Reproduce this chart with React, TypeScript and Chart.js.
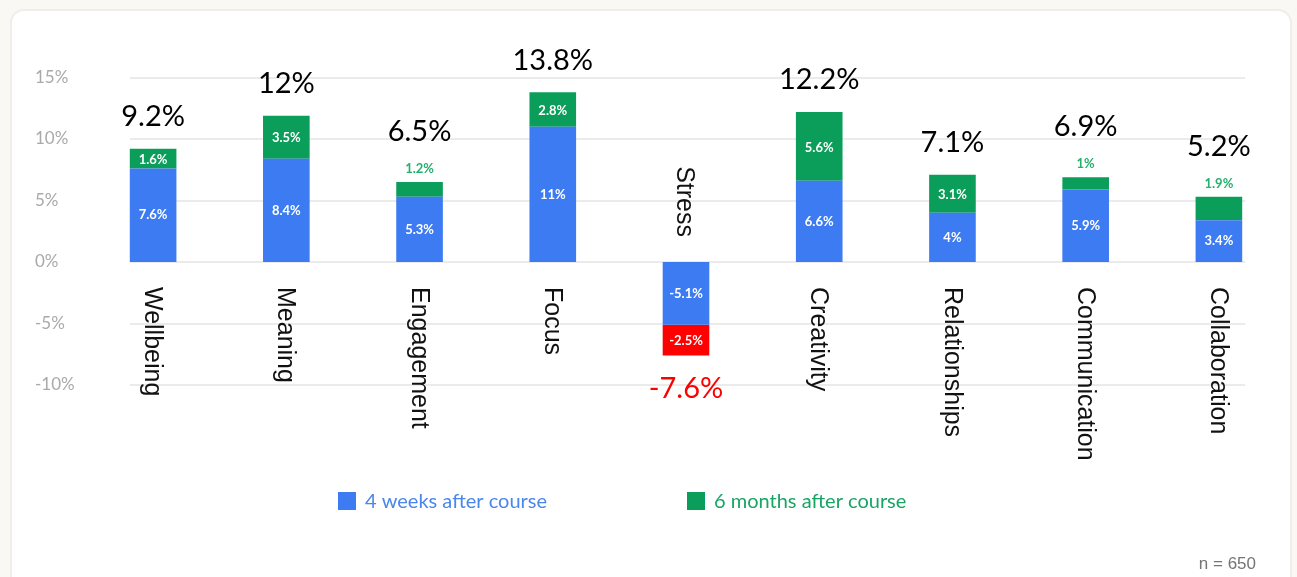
import React, { useEffect, useRef } from "react";
import { Chart, registerables } from "chart.js";

Chart.register(...registerables);

// ---------- data ----------
const categories = [
  "Wellbeing",
  "Meaning",
  "Engagement",
  "Focus",
  "Stress",
  "Creativity",
  "Relationships",
  "Communication",
  "Collaboration",
];
const weeks4 = [7.6, 8.4, 5.3, 11, -5.1, 6.6, 4, 5.9, 3.4];
const months6 = [1.6, 3.5, 1.2, 2.8, -2.5, 5.6, 3.1, 1, 1.9];
const totals = [9.2, 12, 6.5, 13.8, -7.6, 12.2, 7.1, 6.9, 5.2];
const seriesNames = ["4 weeks after course", "6 months after course"];
const yMin = -10;
const yMax = 15;
const yStep = 5;
const outsideLabelCategories = ["Engagement", "Communication", "Collaboration"];
const footnote = "n = 650";

// ---------- style ----------
const W = 1297;
const H = 577;
const BLUE = "#3d7bf2";
const GREEN = "#0b9e5a";
const RED = "#ff0000";
const LEGEND_BLUE = "#4a86ec";
const LEGEND_GREEN = "#17a563";
const SMALL_GREEN = "#25b06c";
const GRID = "#ebebeb";
const TICK = "#a9a9a9";
const BAR_FRACTION = 0.35;
const LATO = "Lato, 'Open Sans', sans-serif";
const ARIAL = "'Liberation Sans', Arial, sans-serif";

const fmt = (v: number) => `${v}%`;

const overlayPlugin = {
  id: "overlay",
  beforeDatasetsDraw(chart: any) {
    const { ctx } = chart;
    const xs = chart.scales.x;
    const ys = chart.scales.y;
    const catW = xs.width / categories.length;
    const half = (catW * BAR_FRACTION) / 2;
    const left = xs.getPixelForValue(0) - half;
    const right = xs.getPixelForValue(categories.length - 1) + half + 3;
    ctx.save();
    ctx.strokeStyle = GRID;
    ctx.lineWidth = 2;
    ys.ticks.forEach((t: any) => {
      const py = Math.round(ys.getPixelForValue(t.value));
      ctx.beginPath();
      ctx.moveTo(left, py);
      ctx.lineTo(right, py);
      ctx.stroke();
    });
    ctx.restore();
  },
  afterDatasetsDraw(chart: any) {
    const { ctx } = chart;
    const ys = chart.scales.y;
    const zeroY = ys.getPixelForValue(0);
    const m0 = chart.getDatasetMeta(0);
    const m1 = chart.getDatasetMeta(1);
    ctx.save();
    categories.forEach((cat, i) => {
      const e0 = m0.data[i];
      const e1 = m1.data[i];
      const outside = outsideLabelCategories.includes(cat);
      // segment labels
      ctx.textAlign = "center";
      ctx.textBaseline = "middle";
      ctx.font = `bold 13px ${LATO}`;
      ctx.fillStyle = "#ffffff";
      ctx.fillText(fmt(weeks4[i]), e0.x, (e0.y + e0.base) / 2);
      if (outside) {
        ctx.fillStyle = SMALL_GREEN;
        ctx.fillText(fmt(months6[i]), e1.x, e1.y - 13);
      } else {
        ctx.fillStyle = "#ffffff";
        ctx.fillText(fmt(months6[i]), e1.x, (e1.y + e1.base) / 2 + 1);
      }
      // totals
      const tot = totals[i];
      ctx.font = `29px ${LATO}`;
      if (tot >= 0) {
        ctx.fillStyle = "#000000";
        ctx.fillText(fmt(tot), e1.x, e1.y - (outside ? 50 : 32));
      } else {
        ctx.fillStyle = RED;
        ctx.fillText(fmt(tot), e1.x, e1.y + 33);
      }
      // category labels (rotated)
      ctx.save();
      ctx.font = `25px ${ARIAL}`;
      ctx.fillStyle = "#111111";
      ctx.textBaseline = "middle";
      if (tot >= 0) {
        ctx.translate(e0.x - 1, zeroY + 25);
        ctx.rotate(Math.PI / 2);
        ctx.textAlign = "left";
      } else {
        ctx.translate(e0.x - 2, zeroY - 25);
        ctx.rotate(Math.PI / 2);
        ctx.textAlign = "right";
      }
      ctx.fillText(cat, 0, 0);
      ctx.restore();
    });
    ctx.restore();
  },
  afterDraw(chart: any) {
    const { ctx } = chart;
    ctx.save();
    // legend
    const items = [
      { x: 338, fill: BLUE, color: LEGEND_BLUE, text: seriesNames[0] },
      { x: 687, fill: GREEN, color: LEGEND_GREEN, text: seriesNames[1] },
    ];
    const ly = 501;
    items.forEach((it) => {
      ctx.fillStyle = it.fill;
      ctx.fillRect(it.x, ly - 9, 18, 18);
      ctx.fillStyle = it.color;
      ctx.font = `20px ${LATO}`;
      ctx.textAlign = "left";
      ctx.textBaseline = "middle";
      ctx.fillText(it.text, it.x + 27, ly + 1);
    });
    // footnote
    ctx.fillStyle = "#757575";
    ctx.font = `17px ${ARIAL}`;
    ctx.textAlign = "right";
    ctx.textBaseline = "alphabetic";
    ctx.fillText(footnote, 1256, 569);
    ctx.restore();
  },
};

export default function App() {
  const canvasRef = useRef<HTMLCanvasElement | null>(null);

  useEffect(() => {
    const canvas = canvasRef.current;
    if (!canvas) return;
    const chart = new Chart(canvas, {
      type: "bar",
      data: {
        labels: categories,
        datasets: [
          {
            label: seriesNames[0],
            data: weeks4,
            backgroundColor: BLUE,
            borderWidth: 0,
            barPercentage: BAR_FRACTION,
            categoryPercentage: 1,
          },
          {
            label: seriesNames[1],
            data: months6,
            backgroundColor: months6.map((v) => (v < 0 ? RED : GREEN)),
            borderWidth: 0,
            barPercentage: BAR_FRACTION,
            categoryPercentage: 1,
          },
        ],
      },
      options: {
        animation: false,
        responsive: false,
        devicePixelRatio: 1,
        layout: { padding: { left: 35, right: 11.5, top: 77.5, bottom: 192 } },
        plugins: {
          legend: { display: false },
          tooltip: { enabled: false },
          title: { display: false },
        },
        scales: {
          x: {
            stacked: true,
            display: false,
            offset: true,
          },
          y: {
            stacked: true,
            min: yMin,
            max: yMax,
            grid: { display: false },
            border: { display: false },
            afterFit: (scale: any) => {
              scale.width = 51.5;
            },
            ticks: {
              stepSize: yStep,
              crossAlign: "far",
              color: TICK,
              font: { family: LATO, size: 17 },
              callback: (v: any) => `${v}%`,
            },
          },
        },
      },
      plugins: [overlayPlugin],
    } as any);
    return () => chart.destroy();
  }, []);

  return (
    <div
      style={{
        position: "fixed",
        left: 0,
        top: 0,
        width: W,
        height: H,
        background: "#f9f8f5",
        overflow: "hidden",
      }}
    >
      <div
        style={{
          position: "absolute",
          left: 10,
          top: 9,
          width: 1282,
          height: 620,
          background: "#ffffff",
          border: "2px solid #efeee9",
          borderRadius: 14,
          boxSizing: "border-box",
        }}
      />
      <canvas
        ref={canvasRef}
        width={W}
        height={H}
        style={{ position: "absolute", left: 0, top: 0, width: W, height: H }}
      />
    </div>
  );
}
